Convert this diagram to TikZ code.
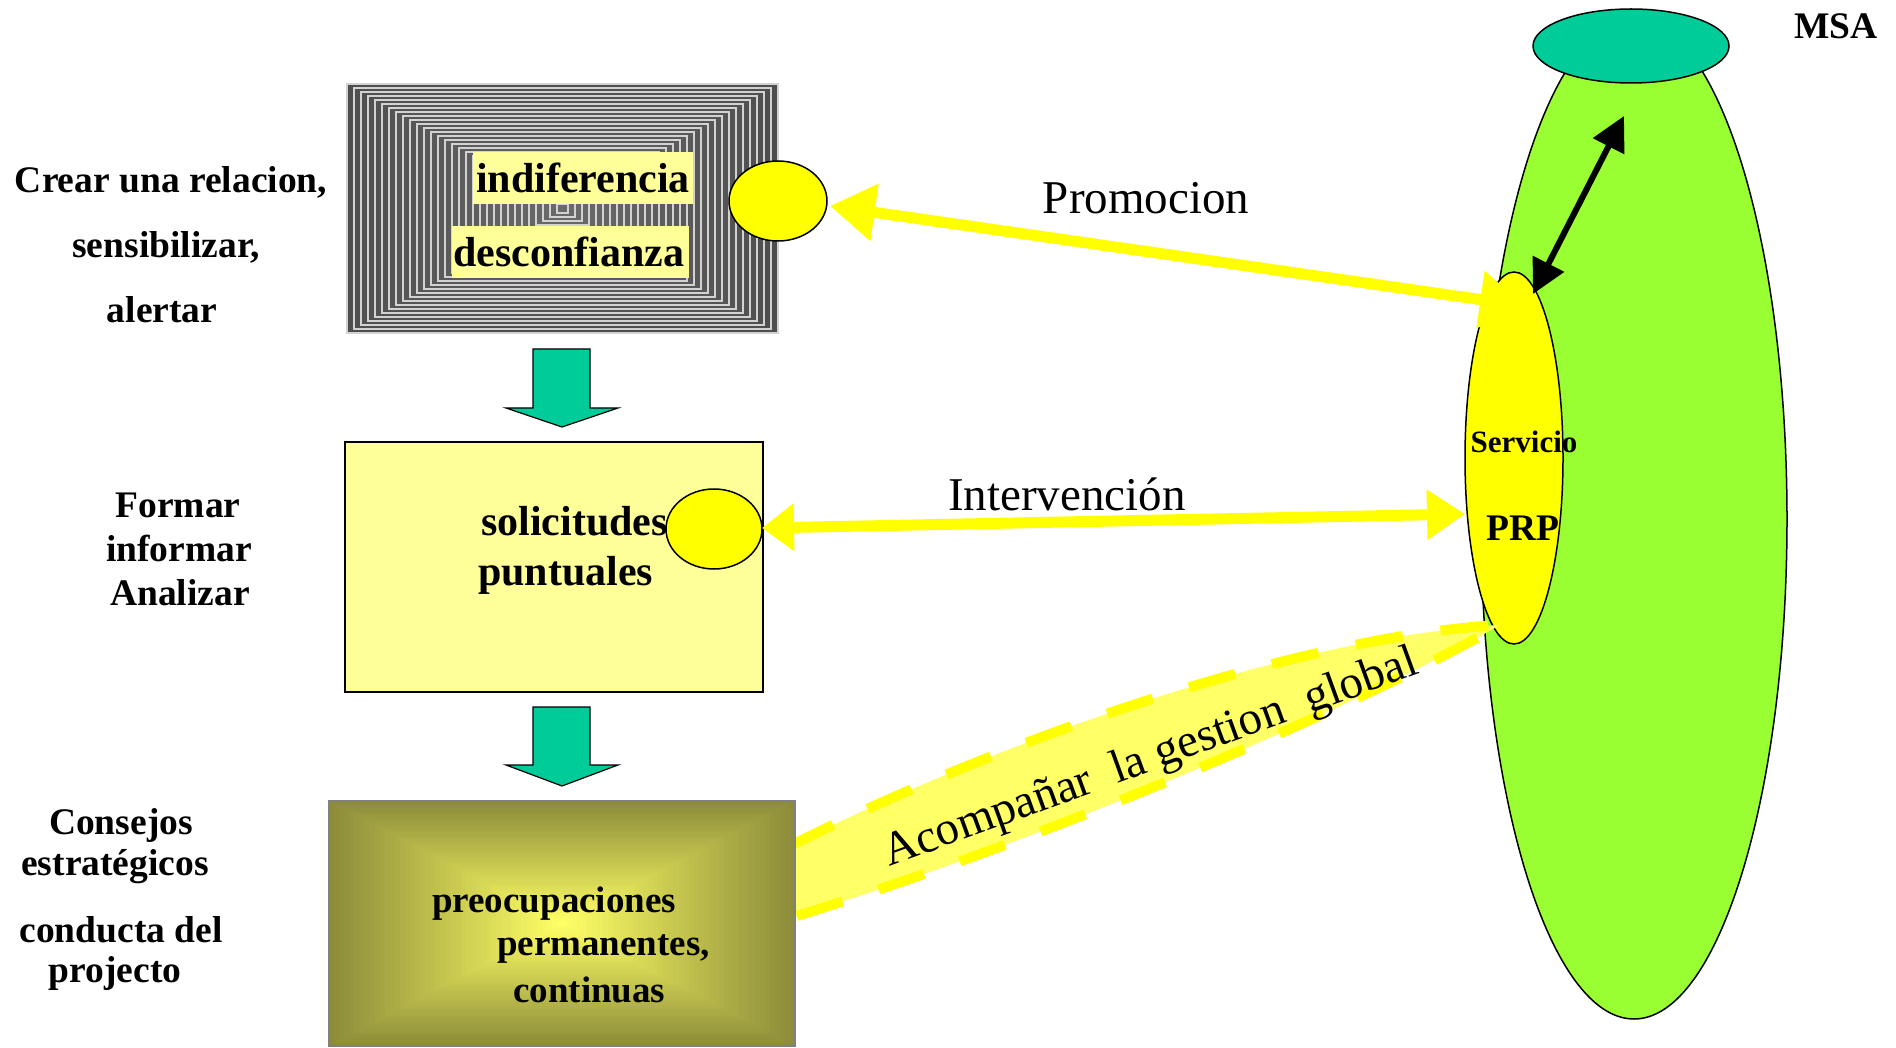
\documentclass[tikz,border=0pt]{standalone}
\usepackage{fontspec}
\setmainfont{Liberation Serif}
\usetikzlibrary{arrows.meta,shapes.geometric}
\definecolor{teal2}{HTML}{00CC99}
\definecolor{lgreen}{HTML}{99FF33}
\definecolor{yel}{HTML}{FFFF00}
\definecolor{lyel}{HTML}{FFFF99}
\definecolor{byel}{HTML}{FFFF66}
\definecolor{olv}{RGB}{140,140,58}
\definecolor{dgray}{RGB}{78,78,78}
\definecolor{mgray}{RGB}{125,125,125}
\definecolor{lgray}{RGB}{210,210,210}
\begin{document}
\begin{tikzpicture}[x=1pt,y=-1pt,
  lbl/.style={font=\fontsize{37.5}{44}\selectfont\bfseries, anchor=base, inner sep=0},
  big/.style={font=\fontsize{42}{50}\selectfont\bfseries, anchor=base west, inner sep=0},
  midt/.style={font=\fontsize{37}{44}\selectfont\bfseries, anchor=base west, inner sep=0},
  reg/.style={font=\fontsize{47}{56}\selectfont, anchor=base, inner sep=0},
  yarrow/.style={draw=yel, line width=11pt},
  downarrow/.style={draw=black, fill=teal2, line width=1.2pt},
  oval/.style={ellipse, draw=black, line width=1.5pt, inner sep=0}
]
\useasboundingbox (0,0) rectangle (1896,1048);

% ---------- right side: MSA ----------
\node[oval, fill=lgreen, minimum width=306pt, minimum height=1000pt] (msa) at (1634,519) {};
\node[oval, fill=teal2, minimum width=196pt, minimum height=74pt] (top) at (1631,46) {};
\node[lbl] (msatxt) at (1836,39) {MSA};
\node[oval, fill=yel, minimum width=98pt, minimum height=372pt] (prp) at (1514,458) {};
\node[font=\fontsize{31}{36}\selectfont\bfseries, anchor=base, inner sep=0] (serv) at (1524,453) {Servicio};
\node[lbl] (prptxt) at (1523,540) {PRP};

\coordinate (bA) at (1533,294);
\coordinate (bB) at (1624,116);
\draw[line width=6pt, {Triangle[length=34pt,width=34pt]}-{Triangle[length=34pt,width=34pt]}] (bA) -- (bB);

% ---------- top box (concentric pattern) ----------
\foreach \i in {0,...,30} {
  \pgfmathsetmacro\dx{\i*7}
  \pgfmathsetmacro\dy{\i*4}
  \pgfmathtruncatemacro\p{100-\i*2}
  \filldraw[fill=dgray!\p!mgray, draw=lgray, line width=1.3pt] (347+\dx,84+\dy) rectangle (778-\dx,333-\dy);
}
\node[minimum width=431pt, minimum height=249pt, inner sep=0] (box1) at (562.5,208.5) {};
\node[fill=lyel, minimum width=220pt, minimum height=52pt, inner sep=0] (bg1) at (583,178) {};
\node[big, anchor=base] (indif) at (583,193) {indiferencia};
\node[fill=lyel, minimum width=237pt, minimum height=52pt, inner sep=0] (bg2) at (570.5,252) {};
\node[big, anchor=base] (desc) at (569,267) {desconfianza};
\node[oval, fill=yel, minimum width=98pt, minimum height=80pt] (ell1) at (778,201) {};

% ---------- down arrows ----------
\draw[downarrow] (533,349) -- (590,349) -- (590,408) -- (618,408) -- (562,427) -- (506,408) -- (533,408) -- cycle;
\draw[downarrow] (533,707) -- (590,707) -- (590,765) -- (618,765) -- (562,786) -- (506,765) -- (533,765) -- cycle;

% ---------- middle box ----------
\node[draw=black, fill=lyel, line width=1.5pt, minimum width=418pt, minimum height=250pt, inner sep=0] (box2) at (554,567) {};
\node[big] (sol) at (481,535) {solicitudes};
\node[big] (pun) at (478,585) {puntuales};
\node[oval, fill=yel, minimum width=96pt, minimum height=80pt] (ell2) at (714,529) {};

% ---------- band ----------
\fill[byel] (790,846) .. controls (1000,740) and (1300,636) .. (1500,625)
  .. controls (1360,705) and (1060,835) .. (790,918) -- cycle;
\draw[yel, line width=10pt, dash pattern=on 48pt off 38pt] (790,846) .. controls (1000,740) and (1300,636) .. (1500,625)
  .. controls (1360,705) and (1060,835) .. (790,918);
\node[reg, rotate=20] (acomp) at (1155,770) {Acompañar\ \ la gestion\ \ global};

% ---------- bottom box (rectangular gradient) ----------
\foreach \i in {0,...,45} {
  \pgfmathsetmacro\dx{\i*233/46}
  \pgfmathsetmacro\dy{\i*122.5/46}
  \pgfmathtruncatemacro\p{\i*100/45}
  \fill[byel!\p!olv] (329+\dx,801+\dy) rectangle (795-\dx,1046-\dy);
}
\node[draw=gray, line width=1.5pt, minimum width=466pt, minimum height=245pt, inner sep=0] (box3) at (562,923.5) {};
\node[midt] (pre) at (432,912) {preocupaciones};
\node[midt] (perm) at (497,955) {permanentes,};
\node[midt] (cont) at (513,1002) {continuas};

% ---------- yellow connectors ----------
\coordinate (pA) at (1525,306);
\coordinate (pB) at (830,206);
\draw[yarrow, {Triangle[length=45pt,width=55pt]}-{Triangle[length=45pt,width=55pt]}] (pA) -- (pB);
\node[reg] (promo) at (1146,214) {Promocion};

\coordinate (iA) at (762,528);
\coordinate (iB) at (1465,514);
\draw[yarrow, {Triangle[length=32pt,width=46pt]}-{Triangle[length=38pt,width=48pt]}] (iA) -- (iB);
\node[reg] (interv) at (1067,510) {Intervención};

% ---------- left labels ----------
\node[lbl] (l1) at (171,193) {Crear una relacion,};
\node[lbl] (l2) at (166,258) {sensibilizar,};
\node[lbl] (l3) at (162,323) {alertar};
\node[lbl] (l4) at (178,517) {Formar};
\node[lbl] (l5) at (179,561) {informar};
\node[lbl] (l6) at (180,605) {Analizar};
\node[lbl] (l7) at (121,834) {Consejos};
\node[lbl] (l8) at (115,875) {estratégicos};
\node[lbl] (l9) at (121,942) {conducta del};
\node[lbl] (l10) at (115,982) {projecto};
\end{tikzpicture}
\end{document}
